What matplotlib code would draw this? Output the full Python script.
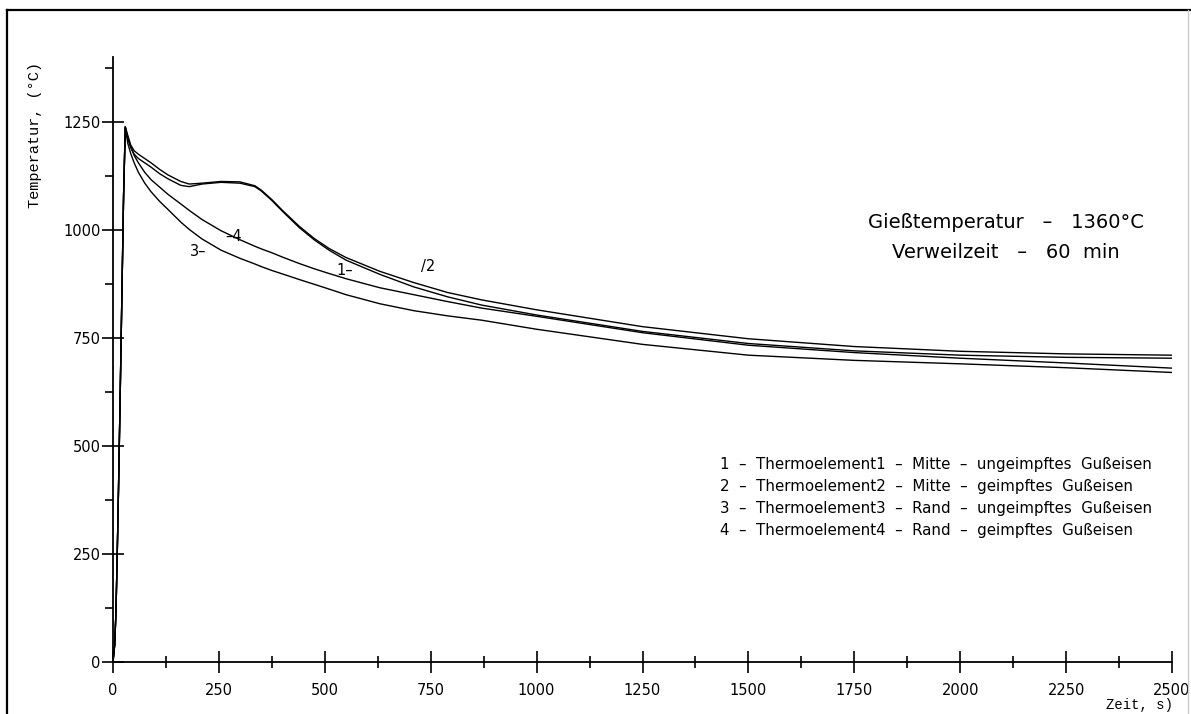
"""
Abkühlkurven von Gußeisen: Temperaturverlauf an vier Thermoelementen
(Mitte / Rand, ungeimpft / geimpft) nach dem Abguß.
"""

# Import necessary libraries
import numpy as np
import matplotlib.pyplot as plt
from matplotlib.lines import Line2D
from matplotlib.ticker import MultipleLocator

# Zeitpunkte in s (gemeinsam für alle Thermoelemente)
zeit = [0, 4, 7, 10, 13, 17, 21, 25, 29,
        35, 42, 50, 60, 75, 90, 110, 130, 160, 180, 210, 255, 300, 335, 350,
        375, 400, 440, 475, 510, 550, 630, 710, 790, 870, 1000, 1250, 1500,
        1750, 2000, 2250, 2500]

# Aufheizen beim Eingießen (für alle Elemente gleich)
anstieg = [0, 40, 116, 250, 400, 620, 850, 1080, 1238]

# Thermoelement 1 - Mitte - ungeimpftes Gußeisen
te1 = anstieg + [1215, 1190, 1175, 1165, 1155, 1145, 1130, 1118, 1103, 1100,
                 1106, 1110, 1108, 1100, 1090, 1068, 1043, 1005, 977, 953,
                 930, 897, 868, 845, 826, 803, 765, 737, 720, 710, 705, 703]

# Thermoelement 2 - Mitte - geimpftes Gußeisen
te2 = anstieg + [1218, 1196, 1183, 1175, 1165, 1155, 1140, 1127, 1112, 1106,
                 1108, 1112, 1111, 1102, 1092, 1070, 1045, 1008, 980, 957,
                 936, 904, 878, 855, 838, 815, 776, 748, 730, 719, 713, 710]

# Thermoelement 3 - Rand - ungeimpftes Gußeisen
te3 = anstieg + [1200, 1176, 1155, 1133, 1108, 1088, 1066, 1047, 1018, 1001,
                 979, 953, 934, 921, 915, 906, 898, 885, 874, 863,
                 850, 829, 813, 801, 791, 770, 735, 710, 698, 690, 681, 670]

# Thermoelement 4 - Rand - geimpftes Gußeisen
te4 = anstieg + [1210, 1192, 1172, 1155, 1133, 1116, 1099, 1082, 1060, 1045,
                 1024, 998, 977, 962, 956, 947, 937, 922, 910, 899,
                 887, 866, 850, 834, 819, 800, 762, 733, 716, 703, 692, 680]

# Legende als Textzeilen
legende = [
    "1  –  Thermoelement1  –  Mitte  –  ungeimpftes  Gußeisen",
    "2  –  Thermoelement2  –  Mitte  –  geimpftes  Gußeisen",
    "3  –  Thermoelement3  –  Rand  –  ungeimpftes  Gußeisen",
    "4  –  Thermoelement4  –  Rand  –  geimpftes  Gußeisen",
]

W, H = 1191, 714
fig = plt.figure(figsize=(W / 100, H / 100), dpi=100)
fig.patch.set_facecolor("white")

# Achsenbereich (Pixelgrenzen des Diagramms)
ax = fig.add_axes([113 / W, 52 / H, 1059 / W, 605 / H])
ax.set_xlim(0, 2500)
ax.set_ylim(0, 1400)

# Kurven zeichnen
for werte in (te1, te2, te3, te4):
    ax.plot(zeit, werte, color="black", lw=1.0, solid_joinstyle="round")

# Nur linke und untere Achse
ax.spines["top"].set_visible(False)
ax.spines["right"].set_visible(False)
ax.spines["left"].set_linewidth(1.3)
ax.spines["bottom"].set_linewidth(1.3)

# Teilung der Achsen
ax.xaxis.set_major_locator(MultipleLocator(250))
ax.xaxis.set_minor_locator(MultipleLocator(125))
ax.yaxis.set_major_locator(MultipleLocator(250))
ax.yaxis.set_minor_locator(MultipleLocator(125))
ax.set_yticks(np.arange(0, 1251, 250))

ax.tick_params(axis="x", which="major", direction="inout", length=16,
               width=1.2, pad=7, labelsize=10.5)
ax.tick_params(axis="x", which="minor", direction="inout", length=9,
               width=1.2)
ax.tick_params(axis="y", which="major", direction="inout", length=16,
               width=1.2, pad=1, labelsize=10.5)
ax.tick_params(axis="y", which="minor", direction="out", length=6,
               width=1.2)
for lab in ax.get_xticklabels() + ax.get_yticklabels():
    lab.set_family("DejaVu Sans")

# Kurvenbezeichnungen
ax.text(548, 905, "1–", fontsize=10.5, ha="center", va="center")
ax.text(745, 915, "/2", fontsize=10.5, ha="center", va="center")
ax.text(200, 950, "3–", fontsize=10.5, ha="center", va="center")
ax.text(285, 985, "–4", fontsize=10.5, ha="center", va="center")

# Achsenbeschriftungen (Schreibmaschinenschrift)
fig.text(35 / W, 1 - 135 / H, "Temperatur, (°C)", rotation=90,
         family="Liberation Mono", fontsize=11, ha="center", va="center")
fig.text(1140 / W, 1 - 705 / H, "Zeit, s)", family="Liberation Mono",
         fontsize=10, ha="center", va="center")

# Versuchsbedingungen
fig.text(1006 / W, 1 - 222 / H, "Gießtemperatur   –   1360°C",
         family="DejaVu Sans", fontsize=14, ha="center", va="center")
fig.text(1006 / W, 1 - 252 / H, "Verweilzeit   –   60  min",
         family="DejaVu Sans", fontsize=14, ha="center", va="center")

# Legende
for i, zeile in enumerate(legende):
    fig.text(720 / W, 1 - (464 + i * 22) / H, zeile,
             family="DejaVu Sans", fontsize=10.8, ha="left", va="center")

# Seitenrahmen
fig.add_artist(Line2D([7 / W, 1], [1 - 10 / H, 1 - 10 / H],
                      transform=fig.transFigure, color="black", lw=1.6))
fig.add_artist(Line2D([7 / W, 7 / W], [0, 1 - 10 / H],
                      transform=fig.transFigure, color="black", lw=1.6))
fig.add_artist(Line2D([1188 / W, 1188 / W], [0, 1 - 10 / H],
                      transform=fig.transFigure, color="#cccccc", lw=1.0))

# Save the figure
plt.savefig("out.png", dpi=100)
